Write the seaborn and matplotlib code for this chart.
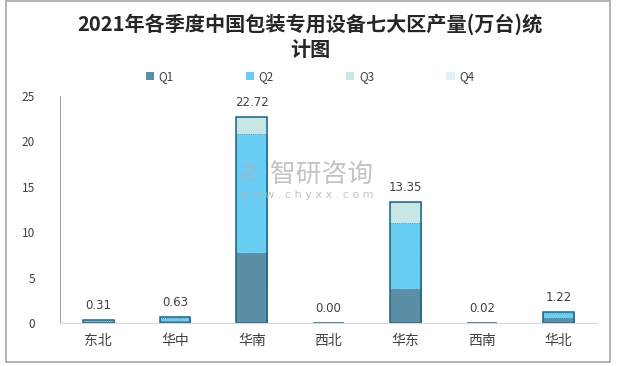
import numpy as np
import pandas as pd
import matplotlib
matplotlib.use("Agg")
import matplotlib.pyplot as plt
from matplotlib.patches import Patch, Rectangle
import seaborn as sns

# data (万台)
regions = ["东北", "华中", "华南", "西北", "华东", "西南", "华北"]
q1 = [0.12, 0.25, 7.70, 0.00, 3.74, 0.01, 0.55]
q2 = [0.15, 0.27, 13.10, 0.00, 7.31, 0.01, 0.55]
q3 = [0.04, 0.11, 1.92, 0.00, 2.30, 0.00, 0.12]
q4 = [0.00, 0.00, 0.00, 0.00, 0.00, 0.00, 0.00]
quarters = ["Q1", "Q2", "Q3", "Q4"]
colors = ["#5b8fa6", "#69cdf4", "#c8e6e4", "#dff2fa"]
edge = "#1d6488"

df = pd.DataFrame({"region": regions, "Q1": q1, "Q2": q2, "Q3": q3, "Q4": q4})
cum = df[quarters].cumsum(axis=1)
df["total"] = cum["Q4"]

sns.set_theme(style="white")
plt.rcParams["font.family"] = ["Noto Sans CJK SC", "DejaVu Sans"]

fig = plt.figure(figsize=(6.2, 3.66), dpi=100)
ax = fig.add_axes([0.0968, 0.1175, 0.866, 0.6202])

# stacked bars: draw cumulative sums from the top down
for i in range(3, -1, -1):
    q = quarters[i]
    if i < 3:
        kw = dict(edgecolor=edge, linewidth=0.5, linestyle=":")
    else:
        kw = dict(linewidth=0)
    sns.barplot(data=cum.assign(region=regions), x="region", y=q, color=colors[i],
                width=0.4, saturation=1, ax=ax, **kw)
# outer outline of each stack
sns.barplot(data=df, x="region", y="total", width=0.4, ax=ax, fill=False,
            edgecolor=edge, linewidth=1.1)

for i, v in enumerate(df["total"]):
    ax.text(i, v + 0.9, f"{v:.2f}", ha="center", va="bottom", fontsize=8.5,
            color="#404040", family=["DejaVu Sans"])

ax.set_ylim(0, 25)
ax.set_xlim(-0.5, len(regions) - 0.5)
ax.set_yticks(np.arange(0, 26, 5))
ax.set_xlabel("")
ax.set_ylabel("")
ax.tick_params(axis="y", labelsize=8.5, colors="#404040", length=0, pad=18)
ax.tick_params(axis="x", which="major", labelsize=10, colors="#404040", length=0, pad=8)
ax.set_xticks(np.arange(-0.5, len(regions)), minor=True)
ax.tick_params(axis="x", which="minor", length=4, color="#d9d9d9", width=0.8)
for s in ["top", "right"]:
    ax.spines[s].set_visible(False)
ax.spines["left"].set_color("#a6a6a6")
ax.spines["bottom"].set_color("#d9d9d9")
ax.spines["left"].set_linewidth(0.8)
ax.spines["bottom"].set_linewidth(0.8)

fig.text(0.5, 0.935, "2021年各季度中国包装专用设备七大区产量(万台)统", ha="center", va="center",
         fontsize=14.5, fontweight="bold", color="#262626")
fig.text(0.5, 0.865, "计图", ha="center", va="center", fontsize=14.5, fontweight="bold",
         color="#262626")

handles = [Patch(facecolor=c, edgecolor="none") for c in colors]
fig.legend(handles, quarters, loc="center", bbox_to_anchor=(0.5, 0.79), ncol=4, frameon=False,
           fontsize=8.5, handlelength=0.7, handleheight=0.7, handletextpad=0.4,
           columnspacing=6.1, labelcolor="#404040")

# watermark
fig.text(0.435, 0.522, "智研咨询", ha="left", va="center", fontsize=18.5, color="#b5b5b5", alpha=0.8)
fig.text(0.387, 0.468, "w w w . c h y x x . c o m", ha="left", va="center", fontsize=8,
         color="#b5b5b5", alpha=0.8, family=["DejaVu Sans"])
fig.text(0.388, 0.522, "Ƨ", ha="left", va="center", fontsize=18, color="#9bb8d0", alpha=0.6,
         fontweight="bold", family=["DejaVu Sans"])

fig.patches.append(Rectangle((0.0097, 0.011), 0.974, 0.986, transform=fig.transFigure,
                             fill=False, edgecolor="#a6a6a6", linewidth=1.2))

fig.savefig("out.png", dpi=100)
